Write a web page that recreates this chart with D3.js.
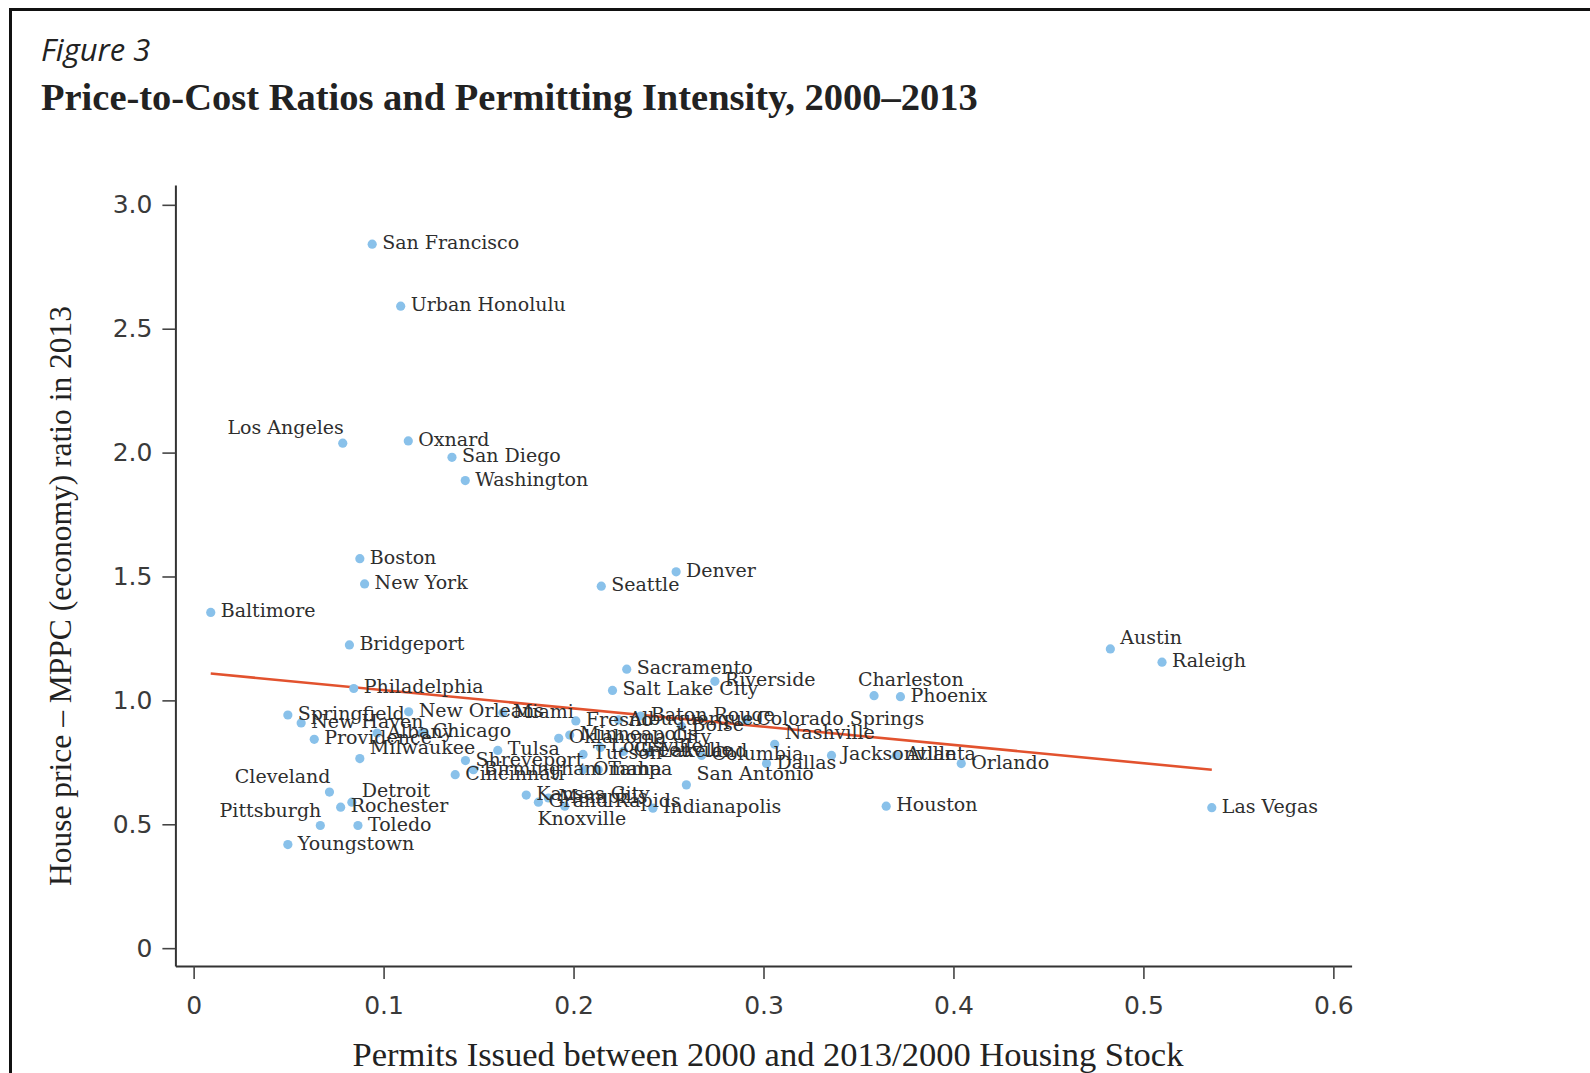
<!DOCTYPE html>
<html>
<head>
<meta charset="utf-8">
<script src="https://cdn.jsdelivr.net/npm/d3@7"></script>
<style>
  html, body { margin: 0; padding: 0; background: #fff; }
  svg { display: block; }
</style>
</head>
<body>
<svg id="chart" width="1590" height="1073"></svg>
<script>
// Metro areas, permits 2000–2013 relative to 2000 housing stock, and price/MPPC ratio in 2013
const cities = [
  "San Francisco", "Urban Honolulu", "Los Angeles", "Oxnard", "San Diego", "Washington",
  "Boston", "New York", "Baltimore", "Bridgeport", "Seattle", "Denver", "Philadelphia",
  "Sacramento", "Salt Lake City", "Riverside", "Charleston", "Phoenix", "Austin", "Raleigh",
  "Springfield", "New Haven", "New Orleans", "Providence", "Albany", "Chicago", "Milwaukee",
  "Shreveport", "Cincinnati", "Birmingham", "Tulsa", "Miami", "Fresno", "Albuquerque",
  "Baton Rouge", "Boise", "Colorado Springs", "Oklahoma City", "Minneapolis", "Tucson",
  "Louisville", "Omaha", "Tampa", "Greenville", "Lakeland", "Columbia", "Nashville", "Dallas",
  "Jacksonville", "Atlanta", "Orlando", "San Antonio", "Indianapolis", "Kansas City",
  "Memphis", "Grand Rapids", "Knoxville", "Houston", "Las Vegas", "Cleveland", "Detroit",
  "Rochester", "Pittsburgh", "Toledo", "Youngstown"
];
const permitsRatio = [
  0.094, 0.109, 0.0785, 0.113, 0.136, 0.143,
  0.0875, 0.090, 0.009, 0.082, 0.2146, 0.254, 0.0843,
  0.228, 0.2205, 0.2744, 0.3582, 0.3721, 0.4826, 0.5098,
  0.0496, 0.0566, 0.1132, 0.0635, 0.0966, 0.1206, 0.0875,
  0.1431, 0.1377, 0.1473, 0.1601, 0.1628, 0.2012, 0.2237,
  0.2354, 0.2568, 0.2909, 0.1922, 0.198, 0.205,
  0.2141, 0.205, 0.213, 0.2263, 0.2397, 0.2674, 0.3059, 0.3016,
  0.3358, 0.3699, 0.4041, 0.2594, 0.2418, 0.1751,
  0.1868, 0.1815, 0.1954, 0.3646, 0.536, 0.0715, 0.0833,
  0.0774, 0.0667, 0.0865, 0.0496
];
const priceCostRatio = [
  2.841, 2.591, 2.038, 2.047, 1.981, 1.887,
  1.572, 1.470, 1.355, 1.224, 1.461, 1.519, 1.048,
  1.126, 1.040, 1.077, 1.019, 1.015, 1.2075, 1.154,
  0.941, 0.909, 0.954, 0.843, 0.868, 0.872, 0.765,
  0.757, 0.700, 0.720, 0.798, 0.950, 0.917, 0.921,
  0.937, 0.896, 0.921, 0.847, 0.860, 0.782,
  0.810, 0.720, 0.720, 0.794, 0.790, 0.778, 0.823, 0.745,
  0.778, 0.778, 0.745, 0.659, 0.565, 0.618,
  0.606, 0.589, 0.573, 0.573, 0.567, 0.630, 0.589,
  0.569, 0.495, 0.495, 0.418
];

// Linear fit of price/cost ratio on permitting intensity
const fitIntercept = 1.115;
const fitSlope = -0.737;

// Axis ticks
const xTicks = [0, 0.1, 0.2, 0.3, 0.4, 0.5, 0.6];
const xTickLabels = ["0", "0.1", "0.2", "0.3", "0.4", "0.5", "0.6"];
const yTicks = [0, 0.5, 1.0, 1.5, 2.0, 2.5, 3.0];
const yTickLabels = ["0", "0.5", "1.0", "1.5", "2.0", "2.5", "3.0"];

// Marker label placement, as clock positions (default is 3 o'clock)
const labelClock = {
  "Los Angeles": 11, "Cleveland": 11, "Pittsburgh": 11, "Charleston": 1,
  "Detroit": 2, "San Antonio": 2, "Austin": 2, "Nashville": 2, "Milwaukee": 2,
  "Knoxville": 5
};

const data = cities.map((c, i) => ({ city: c, x: permitsRatio[i], y: priceCostRatio[i] }));

const svg = d3.select("#chart");

// Frame around the figure
svg.append("rect")
  .attr("x", 10.5).attr("y", 9.5)
  .attr("width", 1700).attr("height", 1200)
  .attr("fill", "none").attr("stroke", "#111").attr("stroke-width", 3);

// Headings
svg.append("text")
  .attr("x", 41).attr("y", 61)
  .attr("font-family", "'Open Sans', 'Liberation Sans', sans-serif")
  .attr("font-style", "italic")
  .attr("font-size", 31)
  .attr("fill", "#222")
  .text("Figure 3");

svg.append("text")
  .attr("x", 41).attr("y", 110)
  .attr("font-family", "'Liberation Serif', serif")
  .attr("font-weight", "bold")
  .attr("font-size", 38.5)
  .attr("fill", "#222")
  .text("Price-to-Cost Ratios and Permitting Intensity, 2000\u20132013");

// Scales (axis lines run slightly past the first and last ticks)
const x = d3.scaleLinear().domain([-0.0096, 0.6096]).range([175.4, 1351.6]);
const y = d3.scaleLinear().domain([-0.072, 3.08]).range([966, 185]);

const tickFont = "'DejaVu Sans', sans-serif";

const xAxis = svg.append("g")
  .attr("transform", `translate(0,${y.range()[0]})`)
  .call(d3.axisBottom(x)
    .tickValues(xTicks)
    .tickFormat((d, i) => xTickLabels[i])
    .tickSize(13)
    .tickSizeOuter(0)
    .tickPadding(17));

const yAxis = svg.append("g")
  .attr("transform", `translate(${x.range()[0]},0)`)
  .call(d3.axisLeft(y)
    .tickValues(yTicks)
    .tickFormat((d, i) => yTickLabels[i])
    .tickSize(13)
    .tickSizeOuter(0)
    .tickPadding(10));

[xAxis, yAxis].forEach(g => {
  g.select(".domain").attr("stroke", "#333").attr("stroke-width", 2);
  g.selectAll(".tick line").attr("stroke", "#444").attr("stroke-width", 1.6);
  g.selectAll(".tick text")
    .attr("font-family", tickFont)
    .attr("font-size", 25)
    .attr("fill", "#3a3a3a");
});

// Axis titles
svg.append("text")
  .attr("transform", "translate(71,596) rotate(-90)")
  .attr("text-anchor", "middle")
  .attr("font-family", "'Liberation Serif', serif")
  .attr("font-size", 31.5)
  .attr("fill", "#222")
  .text("House price \u2013 MPPC (economy) ratio in 2013");

svg.append("text")
  .attr("x", 768).attr("y", 1066)
  .attr("text-anchor", "middle")
  .attr("font-family", "'Liberation Serif', serif")
  .attr("font-size", 34.5)
  .attr("fill", "#222")
  .text("Permits Issued between 2000 and 2013/2000 Housing Stock");

// Fitted line over the observed range of permitting intensity
const xExt = d3.extent(data, d => d.x);
svg.append("line")
  .attr("x1", x(xExt[0])).attr("y1", y(fitIntercept + fitSlope * xExt[0]))
  .attr("x2", x(xExt[1])).attr("y2", y(fitIntercept + fitSlope * xExt[1]))
  .attr("stroke", "#e2522e").attr("stroke-width", 2.6);

// Markers
svg.append("g").selectAll("circle")
  .data(data)
  .join("circle")
  .attr("cx", d => x(d.x))
  .attr("cy", d => y(d.y))
  .attr("r", 4.6)
  .attr("fill", "#89c1ea");

// Marker labels
const clockOffset = {
  3:  { dx: 10,  dy: 5,   anchor: "start" },
  2:  { dx: 10,  dy: -5,  anchor: "start" },
  1:  { dx: -16, dy: -10, anchor: "start" },
  11: { dx: 1,   dy: -9,  anchor: "end" },
  5:  { dx: 17,  dy: 19,  anchor: "middle" }
};

svg.append("g").selectAll("text")
  .data(data)
  .join("text")
  .each(function (d) {
    const o = clockOffset[labelClock[d.city] || 3];
    d3.select(this)
      .attr("x", x(d.x) + o.dx)
      .attr("y", y(d.y) + o.dy)
      .attr("text-anchor", o.anchor);
  })
  .attr("font-family", "'DejaVu Serif', serif")
  .attr("font-size", 19)
  .attr("fill", "#2e2e2e")
  .text(d => d.city);
</script>
</body>
</html>
